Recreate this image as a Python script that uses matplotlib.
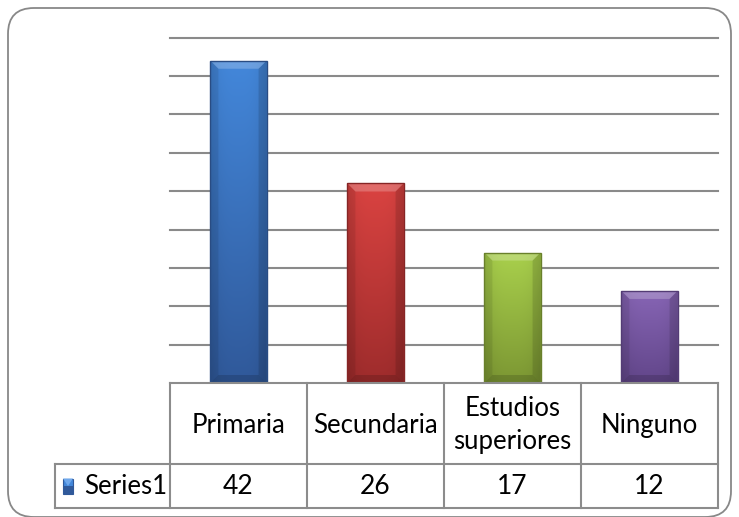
import matplotlib
matplotlib.use("Agg")
import matplotlib.pyplot as plt
import numpy as np
from matplotlib.patches import FancyBboxPatch, Rectangle, Polygon
import matplotlib.transforms as mtransforms

categories = ["Primaria", "Secundaria", "Estudios\nsuperiores", "Ninguno"]
values = [42, 26, 17, 12]
series_name = "Series1"
top_colors = ["#4387DA", "#DA4341", "#A9D04C", "#8765B5"]
bottom_colors = ["#30599A", "#9E2C2C", "#7C9733", "#62468A"]

plt.rcParams['font.family'] = ['Lato', 'DejaVu Sans']

W, H = 739, 517
fig = plt.figure(figsize=(W / 100, H / 100), dpi=100)
fig.patch.set_facecolor("white")

frame = FancyBboxPatch((8 / W, 1 - 517 / H), 723 / W, 509 / H,
                       boxstyle="round,pad=0,rounding_size=0.035",
                       transform=fig.transFigure, facecolor="none",
                       edgecolor="#888888", linewidth=1.3, zorder=-1,
                       mutation_aspect=W / H)
fig.patches.append(frame)

left, right = 170 / W, 718 / W
bottom, top = 1 - 383 / H, 1 - 37.7 / H
ax = fig.add_axes([left, bottom, right - left, top - bottom])
ax.set_zorder(2)
ax.set_facecolor("none")
for s in ax.spines.values():
    s.set_visible(False)
ax.set_xticks([])
ax.set_yticks(np.arange(5, 46, 5))
ax.tick_params(left=False, labelleft=False)
ax.yaxis.grid(True, color="#8A8A8A", linewidth=1.5, clip_on=False)
ax.set_axisbelow(True)

bar_w = 0.41
bars = ax.bar(range(len(values)), values, width=bar_w, color=top_colors,
              edgecolor="none", zorder=2)
bx = 8 / 137.0
by = 8 / 7.67
for b, tc, bc in zip(bars, top_colors, bottom_colors):
    x0, y0 = b.get_x(), b.get_y()
    w, h = b.get_width(), b.get_height()
    c1 = np.array(matplotlib.colors.to_rgb(tc))
    c2 = np.array(matplotlib.colors.to_rgb(bc))
    t = np.linspace(0, 1, 100)[:, None]
    col = c2 * (1 - t) + c1 * t
    xs = np.linspace(-1, 1, 60)[None, :]
    shade = 1 - 0.10 * np.abs(xs) ** 3
    img = col[:, None, :] * shade[..., None]
    im = ax.imshow(img, extent=[x0, x0 + w, y0, y0 + h], origin="lower",
                   aspect="auto", zorder=3, interpolation="bilinear")
    im.set_clip_path(b)
    x1, y1 = x0 + w, y0 + h
    ax.add_patch(Polygon([(x0, y1), (x1, y1), (x1 - bx, y1 - by),
                          (x0 + bx, y1 - by)], closed=True,
                         facecolor="white", alpha=0.22, edgecolor="none",
                         zorder=4))
    ax.add_patch(Polygon([(x0, y1), (x0 + bx, y1 - by), (x0 + bx, y0 + by),
                          (x0, y0)], closed=True, facecolor="black",
                         alpha=0.08, edgecolor="none", zorder=4))
    ax.add_patch(Polygon([(x1, y1), (x1 - bx, y1 - by), (x1 - bx, y0 + by),
                          (x1, y0)], closed=True, facecolor="black",
                         alpha=0.12, edgecolor="none", zorder=4))
    ax.add_patch(Polygon([(x0, y0), (x1, y0), (x1 - bx, y0 + by),
                          (x0 + bx, y0 + by)], closed=True,
                         facecolor="black", alpha=0.15, edgecolor="none",
                         zorder=4))
    ax.add_patch(Rectangle((x0, y0), w, h, facecolor="none",
                           edgecolor=c2 * 0.85, linewidth=1.0, zorder=5))
ax.set_xlim(-0.5, len(categories) - 0.5)
ax.set_ylim(0, 45)

# data table
trans = mtransforms.blended_transform_factory(ax.transData, ax.transAxes)
ax_h_px = 383 - 37.7
r1 = -(464 - 383) / ax_h_px
r2 = -(508 - 383) / ax_h_px
px_per_unit = (718 - 170) / len(categories)
leg_left = -0.5 - (170 - 55) / px_per_unit
n = len(categories)
lc = "#8C8C8C"
lw = 1.5
kw = dict(transform=trans, color=lc, linewidth=lw, clip_on=False, zorder=6)
ax.plot([-0.5, n - 0.5], [0, 0], **kw)
ax.plot([leg_left, n - 0.5], [r1, r1], **kw)
ax.plot([leg_left, n - 0.5], [r2, r2], **kw)
for i in range(n + 1):
    ax.plot([i - 0.5, i - 0.5], [0, r2], **kw)
ax.plot([leg_left, leg_left], [r1, r2], **kw)

fs = 18.5
for i, (c, v) in enumerate(zip(categories, values)):
    ax.text(i, r1 / 2 - 0.005, c, transform=trans, ha="center", va="center",
            fontsize=fs, color="black", linespacing=1.4, clip_on=False)
    ax.text(i, (r1 + r2) / 2, str(v), transform=trans, ha="center",
            va="center", fontsize=fs + 0.5, color="black", clip_on=False)

# legend key (gradient square)
key_x0 = -0.5 - (170 - 63) / px_per_unit
key_w = 10 / px_per_unit
key_h = 15 / ax_h_px
ymid = (r1 + r2) / 2
key = Rectangle((key_x0, ymid - key_h / 2), key_w, key_h, transform=trans,
                facecolor=top_colors[0], edgecolor=bottom_colors[0],
                linewidth=0.8, clip_on=False, zorder=7)
ax.add_patch(key)
ax.add_patch(Polygon([(key_x0, ymid + key_h / 2),
                      (key_x0 + key_w, ymid + key_h / 2),
                      (key_x0 + key_w / 2, ymid)], closed=True,
                     transform=trans, facecolor="#6FA8EC", edgecolor="none",
                     clip_on=False, zorder=8))
ax.add_patch(Rectangle((key_x0, ymid - key_h / 2), key_w, key_h / 2,
                       transform=trans, facecolor=bottom_colors[0],
                       edgecolor="none", clip_on=False, zorder=7.5))
ax.text(-0.5 - (170 - 84) / px_per_unit, ymid, series_name, transform=trans,
        ha="left", va="center", fontsize=fs, color="black", clip_on=False)

fig.savefig("out.png", dpi=100)
